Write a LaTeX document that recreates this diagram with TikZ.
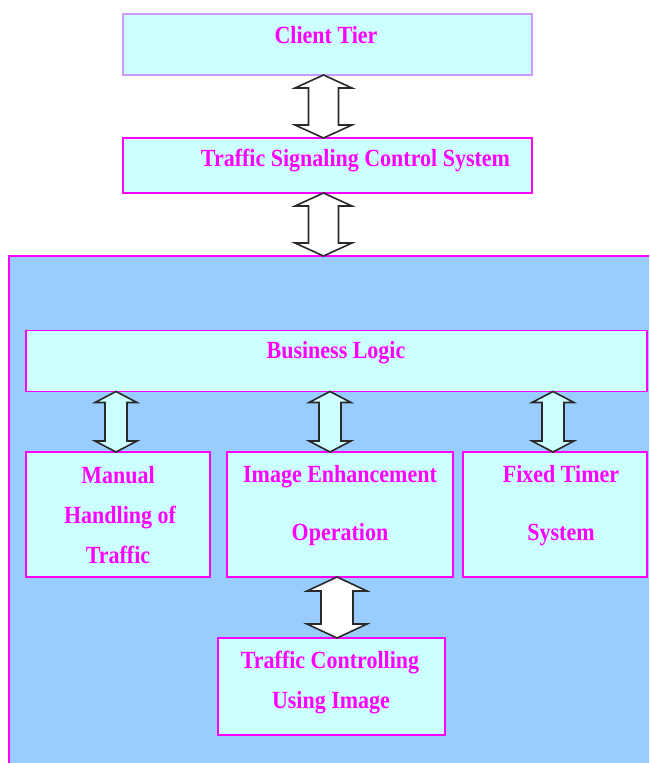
\documentclass[tikz,border=0pt]{standalone}
\usepackage{fontspec}
\usepackage{graphicx}
\setmainfont{Liberation Serif}
\usetikzlibrary{calc}
\definecolor{mag}{HTML}{FF00FF}
\definecolor{lcyan}{HTML}{CCFFFF}
\definecolor{lblue}{HTML}{99CCFF}
\definecolor{lpurp}{HTML}{CC99FF}
\definecolor{arrline}{HTML}{2A2A2A}
\newcommand\tallT[1]{\scalebox{1}[1.12]{#1}}
\tikzset{
  box/.style={draw=mag, fill=lcyan, line width=1.4pt, inner sep=0pt, outer sep=0pt},
  txt/.style={text=mag, font=\fontsize{22}{22}\selectfont\bfseries, anchor=base, inner sep=0pt},
  arrowshape/.style={draw=arrline, line width=1.6pt, line join=miter},
}
\newcommand\udarr[6]{%
  \path[arrowshape, fill=#6] let \p1=(#1), \p2=(#2) in
   (\x1,\y1) -- (\x1+#3pt,\y1-#5pt) -- (\x1+#4pt,\y1-#5pt) -- (\x1+#4pt,\y2+#5pt)
   -- (\x1+#3pt,\y2+#5pt) -- (\x1,\y2) -- (\x1-#3pt,\y2+#5pt) -- (\x1-#4pt,\y2+#5pt)
   -- (\x1-#4pt,\y1-#5pt) -- (\x1-#3pt,\y1-#5pt) -- cycle;}
\begin{document}
\begin{tikzpicture}[x=1pt,y=-1pt]
\clip (0,0) rectangle (649,763);
\fill[white] (0,0) rectangle (649,763);
% outer blue region
\node[box, fill=lblue, minimum width=660pt, minimum height=520pt, anchor=north west] (tier) at (9,256) {};
% boxes
\node[box, draw=lpurp, minimum width=409pt, minimum height=61pt] (ct) at (327.5,44.5) {};
\node[box, minimum width=409pt, minimum height=55pt] (tscs) at (327.5,165.5) {};
\node[box, minimum width=621pt, minimum height=61pt] (bl) at (336.5,361) {};
\node[box, minimum width=184pt, minimum height=125pt] (man) at (118,514.5) {};
\node[box, minimum width=226pt, minimum height=125pt] (ie) at (340,514.5) {};
\node[box, minimum width=184pt, minimum height=125pt] (ft) at (555,514.5) {};
\node[box, minimum width=227pt, minimum height=97pt] (tc) at (331.5,686.5) {};
% texts
\node[txt] (tct) at (326,43) {\tallT{Client Tier}};
\node[txt] (ttscs) at (355.5,166) {\tallT{Traffic Signaling Control System}};
\node[txt] (tbl) at (336,358) {\tallT{Business Logic}};
\node[txt] (tman1) at (118,483) {\tallT{Manual}};
\node[txt] (tman2) at (120,523) {\tallT{Handling of}};
\node[txt] (tman3) at (118,563) {\tallT{Traffic}};
\node[txt] (tie1) at (340,482) {\tallT{Image Enhancement}};
\node[txt] (tie2) at (340,540) {\tallT{Operation}};
\node[txt] (tft1) at (561,482) {\tallT{Fixed Timer}};
\node[txt] (tft2) at (561,540) {\tallT{System}};
\node[txt] (ttc1) at (330,668) {\tallT{Traffic Controlling}};
\node[txt] (ttc2) at (331,708) {\tallT{Using Image}};
% arrow x positions
\coordinate (xa) at (323.5,0);
\coordinate (xb) at (116,0);
\coordinate (xc) at (330,0);
\coordinate (xd) at (553,0);
\coordinate (xe) at (337,0);
\coordinate (a1t) at (ct.south -| xa);  \coordinate (a1b) at (tscs.north -| xa);
\coordinate (a2t) at (tscs.south -| xa); \coordinate (a2b) at (tier.north -| xa);
\coordinate (a3t) at (bl.south -| xb);   \coordinate (a3b) at (man.north -| xb);
\coordinate (a4t) at (bl.south -| xc);   \coordinate (a4b) at (ie.north -| xc);
\coordinate (a5t) at (bl.south -| xd);   \coordinate (a5b) at (ft.north -| xd);
\coordinate (a6t) at (ie.south -| xe);   \coordinate (a6b) at (tc.north -| xe);
\udarr{a1t}{a1b}{28.5}{15}{13}{white}
\udarr{a2t}{a2b}{28.5}{15}{13}{white}
\udarr{a3t}{a3b}{21}{11}{11}{lcyan}
\udarr{a4t}{a4b}{21}{11}{11}{lcyan}
\udarr{a5t}{a5b}{21}{11}{11}{lcyan}
\udarr{a6t}{a6b}{30}{16}{14}{white}
\end{tikzpicture}
\end{document}
